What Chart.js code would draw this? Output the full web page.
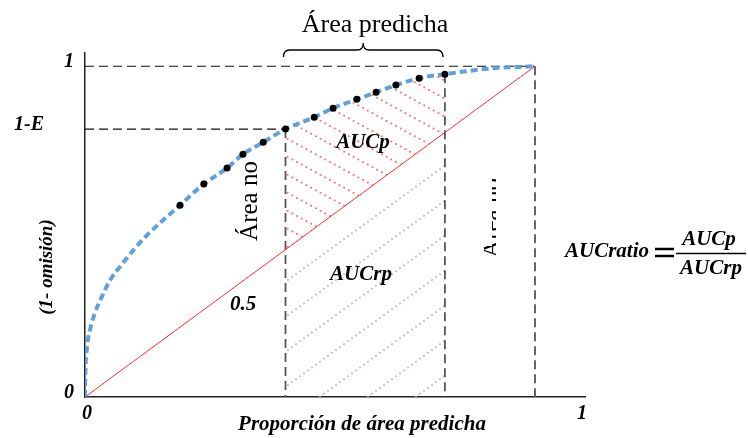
<!DOCTYPE html>
<html><head><meta charset="utf-8">
<script src="https://cdn.jsdelivr.net/npm/chart.js@4"></script>
<style>html,body{margin:0;padding:0;background:#fff}canvas{display:block}</style>
</head><body>
<canvas id="c" width="748" height="438"></canvas>
<script>
// ---- data ----
const curveX = [0, 0.0005, 0.0034, 0.010, 0.020, 0.034, 0.0505, 0.0707, 0.0976, 0.125, 0.158, 0.192, 0.240, 0.287, 0.319, 0.360, 0.405, 0.463, 0.501, 0.549, 0.588, 0.628, 0.675, 0.727, 0.818, 0.909];
const curveY = [0, 0.060, 0.142, 0.202, 0.254, 0.303, 0.353, 0.394, 0.444, 0.489, 0.535, 0.580, 0.644, 0.692, 0.734, 0.770, 0.810, 0.846, 0.873, 0.900, 0.921, 0.943, 0.964, 0.976, 0.993, 1.000];
const dotX = [0.192, 0.240, 0.287, 0.319, 0.360, 0.405, 0.463, 0.501, 0.549, 0.588, 0.628, 0.675, 0.727];
const dotY = [0.580, 0.644, 0.692, 0.734, 0.770, 0.810, 0.846, 0.873, 0.900, 0.921, 0.943, 0.964, 0.976];
const diagX = [0, 0.909];
const diagY = [0, 1];
const predLeft = 0.405, predRight = 0.727, fullX = 0.909;
const oneMinusE = 0.81;
const diagAtLeft = 0.446, diagAtRight = 0.800;
const dotAtRight = 0.976;
const xTickValues = [0, 1];
const xTickLabels = ['0', '1'];
const yTickValues = [0, 0.81, 1];
const yTickLabels = ['0', '1-E', '1'];

const SERIF = "'Liberation Serif','Times New Roman',serif";

function hatch(w, h, n, color, down) {
  const c = document.createElement('canvas');
  c.width = w; c.height = h;
  const g = c.getContext('2d');
  g.fillStyle = color;
  for (let i = 0; i < n; i++) {
    const t = i / n;
    const px = t * w, py = down ? t * h : h - t * h;
    for (const ox of [-w, 0, w]) for (const oy of [-h, 0, h]) {
      g.fillRect(px + ox - 0.9, py + oy - 0.9, 1.8, 1.8);
    }
  }
  return g.createPattern(c, 'repeat');
}
const redHatch = hatch(33, 18, 7, 'rgba(255,100,100,0.95)', true);
const grayHatch = hatch(48, 35, 12, 'rgba(185,185,185,0.95)', false);

const pts = (xs, ys) => xs.map((x, i) => ({x, y: ys[i]}));
const aucpPoly = pts(dotX, dotY).filter(p => p.x >= predLeft && p.x <= predRight)
  .concat([{x: predRight, y: diagAtRight}, {x: predLeft, y: diagAtLeft}]);
const aucrpPoly = [{x: predLeft, y: 0}, {x: predLeft, y: diagAtLeft}, {x: predRight, y: diagAtRight}, {x: predRight, y: 0}];

const dashLine = (data, color, w) => ({data, borderColor: color, borderWidth: w, borderDash: [9, 5], pointRadius: 0, fill: false, order: 3});

const textPlugin = {
  id: 'texts',
  afterDraw(chart) {
    const ctx = chart.ctx;
    const xs = chart.scales.x;
    ctx.save();
    ctx.fillStyle = '#000';
    ctx.strokeStyle = '#000';
    // title & brace
    ctx.font = `26px ${SERIF}`;
    ctx.textAlign = 'center'; ctx.textBaseline = 'alphabetic';
    ctx.fillText('Área predicha', 375, 32);
    const xl = xs.getPixelForValue(predLeft) - 2, xr = xs.getPixelForValue(predRight) - 2, xm = (xl + xr) / 2;
    ctx.lineWidth = 1.3;
    ctx.beginPath();
    ctx.moveTo(xl, 57);
    ctx.quadraticCurveTo(xl, 50, xl + 6, 50);
    ctx.lineTo(xm - 6, 50);
    ctx.quadraticCurveTo(xm, 50, xm, 43);
    ctx.quadraticCurveTo(xm, 50, xm + 6, 50);
    ctx.lineTo(xr - 6, 50);
    ctx.quadraticCurveTo(xr, 50, xr, 57);
    ctx.stroke();
    // bold italic labels
    const bi = s => `italic bold ${s}px ${SERIF}`;
    ctx.font = bi(21); ctx.textBaseline = 'middle';
    ctx.fillText('AUCp', 363, 143);
    ctx.fillText('AUCrp', 361, 275);
    ctx.fillText('0.5', 243, 305);
    // rotated "Área no"
    ctx.font = `25px ${SERIF}`; ctx.textBaseline = 'alphabetic';
    ctx.save(); ctx.translate(257, 201); ctx.rotate(-Math.PI / 2); ctx.fillText('Área no', 0, 0); ctx.restore();
    ctx.save(); ctx.beginPath(); ctx.rect(492, 170, 4, 76); ctx.rect(484, 246, 12, 14); ctx.clip();
    ctx.translate(499, 218); ctx.rotate(-Math.PI / 2); ctx.fillText('Área no', 0, 0); ctx.restore();
    // axis titles
    ctx.font = bi(19); ctx.textBaseline = 'middle';
    ctx.save(); ctx.translate(47, 267); ctx.rotate(-Math.PI / 2); ctx.fillText('(1- omisión)', 0, 0); ctx.restore();
    ctx.font = bi(21);
    ctx.fillText('Proporción de área predicha', 362, 425);
    // equation
    ctx.font = bi(21);
    ctx.textAlign = 'left';
    ctx.fillText('AUCratio', 565, 252);
    ctx.textAlign = 'center';
    ctx.fillText('AUCp', 709, 240);
    ctx.fillText('AUCrp', 711, 269);
    ctx.lineWidth = 2.4;
    ctx.beginPath(); ctx.moveTo(655, 249); ctx.lineTo(674, 249); ctx.moveTo(655, 256); ctx.lineTo(674, 256); ctx.stroke();
    ctx.lineWidth = 1.6;
    ctx.beginPath(); ctx.moveTo(676, 253.5); ctx.lineTo(746, 253.5); ctx.stroke();
    ctx.restore();
  }
};

new Chart(document.getElementById('c'), {
  type: 'line',
  data: {
    datasets: [
      {data: pts(dotX, dotY), showLine: false, pointRadius: 3.5, pointBackgroundColor: '#000', pointBorderWidth: 0, order: 0},
      {data: pts(curveX, curveY), borderColor: 'rgba(91,155,213,0.95)', borderWidth: 4, borderDash: [7, 4], cubicInterpolationMode: 'monotone', pointRadius: 0, fill: false, order: 1},
      {data: pts(diagX, diagY), borderColor: '#ff3030', borderWidth: 1, pointRadius: 0, fill: false, order: 2},
      dashLine([{x: 0, y: 1}, {x: fullX, y: 1}], '#111', 1.2),
      dashLine([{x: 0, y: oneMinusE}, {x: predLeft, y: oneMinusE}], '#111', 1.2),
      dashLine([{x: predLeft, y: oneMinusE}, {x: predLeft, y: 0}], '#555', 1.8),
      dashLine([{x: predRight, y: dotAtRight}, {x: predRight, y: 0}], '#555', 1.8),
      dashLine([{x: fullX, y: 1}, {x: fullX, y: 0}], '#555', 1.8),
      {data: aucpPoly, borderWidth: 0, borderColor: 'rgba(0,0,0,0)', pointRadius: 0, fill: 'shape', backgroundColor: redHatch, tension: 0, order: 5},
      {data: aucrpPoly, borderWidth: 0, borderColor: 'rgba(0,0,0,0)', pointRadius: 0, fill: 'shape', backgroundColor: grayHatch, tension: 0, order: 5}
    ]
  },
  options: {
    responsive: false, animation: false, devicePixelRatio: 1,
    layout: {padding: {left: 0, top: 53, right: 163, bottom: 0}},
    plugins: {legend: {display: false}, tooltip: {enabled: false}},
    scales: {
      x: {
        type: 'linear', min: 0, max: 1.01,
        afterBuildTicks: s => { s.ticks = xTickValues.map(v => ({value: v})); },
        afterFit: s => { s.height = 41; },
        grid: {display: false, drawTicks: false},
        border: {display: true, color: '#222', width: 1.5},
        ticks: {padding: 5, labelOffset: 2, color: '#000', autoSkip: false, maxRotation: 0,
          font: {family: SERIF, size: 20, style: 'italic', weight: 'bold'},
          callback: v => { const i = xTickValues.indexOf(v); return i >= 0 ? xTickLabels[i] : ''; }}
      },
      y: {
        type: 'linear', min: 0, max: 1.04,
        afterBuildTicks: s => { s.ticks = yTickValues.map(v => ({value: v})); },
        afterFit: s => { s.width = 85; },
        grid: {display: false, drawTicks: false},
        border: {display: true, color: '#222', width: 1.5},
        ticks: {padding: 11, labelOffset: -4, color: '#000', autoSkip: false,
          font: {family: SERIF, size: 20, style: 'italic', weight: 'bold'},
          callback: v => { const i = yTickValues.indexOf(v); if (i < 0) return ''; return v === oneMinusE ? yTickLabels[i] + '\u2003\u2002' : yTickLabels[i]; }}
      }
    }
  },
  plugins: [textPlugin]
});
</script>
</body></html>
